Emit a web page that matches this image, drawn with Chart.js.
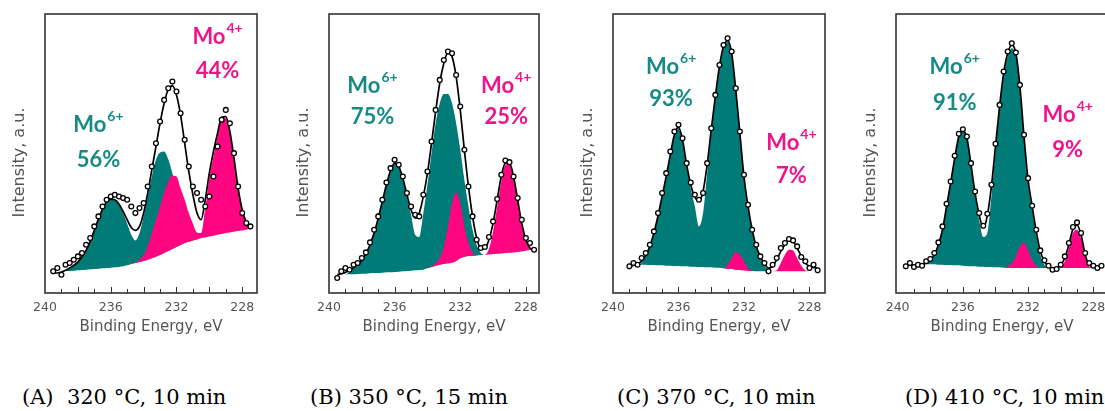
<!DOCTYPE html>
<html>
<head>
<meta charset="utf-8">
<script src="https://cdn.jsdelivr.net/npm/chart.js@4.4.1/dist/chart.umd.min.js"></script>
<style>
  body { margin: 0; width: 1105px; height: 411px; overflow: hidden; background: #fff; position: relative; }
  canvas { position: absolute; top: 0; }
  .cap { position: absolute; top: 385px; font-family: "DejaVu Serif", serif; font-size: 21px; line-height: 24px; white-space: pre; color: #000; }
</style>
</head>
<body>
<script>
// binding energy grid (eV), shared by all four spectra
const energyGrid = [239.5,239.25,239,238.75,238.5,238.25,238,237.75,237.5,237.25,237,236.75,236.5,236.25,236,235.75,235.5,235.25,235,234.75,234.5,234.25,234,233.75,233.5,233.25,233,232.75,232.5,232.25,232,231.75,231.5,231.25,231,230.75,230.5,230.25,230,229.75,229.5,229.25,229,228.75,228.5,228.25,228,227.75,227.5];
const xTicks = [240, 236, 232, 228];

// (A) 320 C
const aData = [65,75,55,85,90,100,110,120,145,165,200,230,260,280,290,295,290,285,280,260,240,255,270,320,380,450,515,580,615,635,605,540,460,380,320,300,280,260,290,350,440,520,550,510,420,320,240,210,200];
const aFit  = [60,60,63,68,75,83,93,108,128,155,188,222,252,274,282,280,267,245,220,197,188,200,240,300,370,440,510,570,612,622,595,535,450,365,295,240,220,280,360,425,480,528,530,485,405,315,250,212,192];
const aBase = [null,null,65,66,66,67,68,69,70,71,72,73,74,75,76,77,78,80,83,87,90,93,96,100,104,109,114,120,126,132,138,144,150,154,158,161,165,167,170,172,175,177,180,182,184,186,188,190,192];
const aMo6  = [null,null,65,68,74,82,92,106,125,152,185,218,248,272,282,280,266,240,208,175,158,180,230,290,350,400,422,425,402,360,305,250,205,180,165,161,165,167,170,172,175,177,180,182,184,186,188,190,192];
const aMo4  = [null,null,65,66,66,67,68,69,70,71,72,73,74,75,76,77,78,80,83,87,92,100,115,140,180,220,260,302,335,352,350,315,280,240,208,182,180,255,345,410,470,522,525,480,400,310,250,215,192];

// (B) 350 C
const bData = [45,65,75,70,85,90,105,122,152,190,230,280,332,375,400,385,350,300,260,235,230,295,365,455,550,640,700,725,720,655,560,430,320,230,160,135,138,168,215,282,355,398,393,350,285,220,165,150,130];
const bFit  = [55,58,62,68,75,85,98,118,145,180,225,275,325,368,390,380,345,295,250,225,240,290,360,450,545,630,690,722,710,650,550,430,320,230,165,135,135,160,210,280,350,390,390,350,280,210,160,135,130];
const bBase = [null,null,55,56,56,57,58,58,59,60,60,61,62,62,63,64,65,66,67,68,69,70,74,78,82,85,87,89,91,96,104,109,111,112,113,114,115,116,117,118,119,120,121,122,123,125,127,129,130];
const bMo6  = [null,null,55,62,72,82,95,115,142,178,223,273,322,365,388,375,340,288,235,175,168,240,325,420,510,570,598,598,570,510,430,340,260,190,145,120,115,116,117,118,119,120,121,122,123,125,127,129,130];
const bMo4  = [null,null,55,56,56,57,58,58,59,60,60,61,62,62,63,64,65,66,67,68,69,70,74,80,90,105,140,200,270,302,270,200,150,122,113,114,115,132,185,260,335,385,388,345,275,205,155,135,130];

// (C) 370 C
const cData = [null,null,80,90,85,105,120,145,185,240,300,360,425,485,505,465,390,332,295,280,300,390,495,595,685,745,765,725,615,485,355,265,190,145,110,90,65,85,105,135,150,162,158,140,108,95,75,85,68];
const cFit  = [null,null,80,83,88,95,112,140,180,232,290,350,415,475,498,460,385,325,288,278,305,385,490,590,680,740,758,720,610,480,350,260,190,140,110,88,75,80,100,125,145,158,155,135,110,90,80,77,75];
const cBase = [null,null,null,null,85,85,85,84,84,83,83,82,82,81,81,80,80,79,79,78,78,77,77,76,76,74,73,72,70,69,68,67,66,65,65,65,65,65,65,65,65,65,65,65,65,65,65,65,65];
const cMo6  = [null,null,null,null,85,90,108,135,175,228,285,345,410,470,495,455,380,315,260,200,240,360,480,580,670,732,755,715,605,475,345,255,185,135,105,82,70,65,65,65,65,65,65,65,65,65,65,65,65];
const cMo4  = [null,null,null,null,85,85,85,84,84,83,83,82,82,81,81,80,80,79,79,78,78,77,77,76,76,74,85,105,123,115,95,75,66,65,65,65,65,65,68,90,115,130,128,105,82,68,65,65,65];

// (D) 410 C
const dData = [80,90,78,85,82,95,102,120,152,200,268,335,412,478,492,470,390,305,240,202,238,325,448,565,665,725,750,722,625,475,345,262,190,128,98,82,70,72,85,110,150,198,212,180,120,90,82,75,82];
const dFit  = [85,84,84,85,87,90,100,115,145,190,260,330,405,470,488,465,385,300,235,196,232,320,440,560,660,720,745,720,620,470,340,260,185,125,95,80,74,75,84,105,145,192,204,175,115,85,80,79,80];
const dBase = [null,null,null,null,null,87,86,86,85,85,84,84,83,83,82,81,80,80,79,79,78,78,77,77,76,76,75,75,75,75,75,75,75,75,75,75,75,75,75,75,75,75,75,75,75,75,75,75,75];
const dMo6  = [null,null,null,null,null,87,98,113,142,188,258,328,402,465,485,460,380,292,220,168,180,290,425,550,652,710,735,710,610,460,330,250,175,115,85,75,75,75,75,75,75,75,75,75,75,75,75,75,75];
const dMo4  = [null,null,null,null,null,87,86,86,85,85,84,84,83,83,82,81,80,80,79,79,78,78,77,77,76,80,90,110,140,150,128,100,82,75,75,75,75,75,77,95,135,180,190,165,110,80,75,75,75];

const captions = ['(A)  320 \u00b0C, 10 min', '(B) 350 \u00b0C, 15 min', '(C) 370 \u00b0C, 10 min', '(D) 410 \u00b0C, 10 min'];
const mo6Share = ['56%', '75%', '93%', '91%'];
const mo4Share = ['44%', '25%', '7%', '9%'];

const TEAL = '#007b78', PINK = '#ff0582';
const TEAL_TXT = '#168a85', PINK_TXT = '#f0148c';

// layout of each panel: frame left/right in page px, axis range, label anchors [eV, line1, line2]
const panels = [
  {left: 45,  right: 257,  xmin: 227.1, xmax: 240,   cap: 22,  mo6: [236.75, 505, 400], mo4: [229.5, 769, 667],
   data: aData, fit: aFit, base: aBase, six: aMo6, four: aMo4},
  {left: 329, right: 539,  xmin: 227.2, xmax: 240,   cap: 310, mo6: [237.35, 622, 529], mo4: [229.2, 622, 529],
   data: bData, fit: bFit, base: bBase, six: bMo6, four: bMo4},
  {left: 613, right: 825,  xmin: 227.05, xmax: 240,  cap: 617, mo6: [236.45, 679, 583], mo4: [229.1, 451, 352],
   data: cData, fit: cFit, base: cBase, six: cMo6, four: cMo4},
  {left: 896, right: 1108, xmin: 227.1, xmax: 240.1, cap: 905, mo6: [236.5, 679, 571], mo4: [229.57, 535, 430],
   data: dData, fit: dFit, base: dBase, six: dMo6, four: dMo4}
];

function pts(arr) {
  return energyGrid.map((e, i) => ({x: e, y: arr[i]}));
}

function drawShare(ctx, sx, sy, anchor, sup, share, color) {
  const cx = sx.getPixelForValue(anchor[0]);
  const y1 = sy.getPixelForValue(anchor[1]);
  const y2 = sy.getPixelForValue(anchor[2]);
  ctx.fillStyle = color;
  ctx.textBaseline = 'middle';
  ctx.font = 'bold 22px Lato, "DejaVu Sans"';
  const w1 = ctx.measureText('Mo').width;
  ctx.font = 'bold 14px Lato, "DejaVu Sans"';
  const w2 = ctx.measureText(sup).width;
  const start = cx - (w1 + w2 + 1) / 2;
  ctx.textAlign = 'left';
  ctx.font = 'bold 22px Lato, "DejaVu Sans"';
  ctx.fillText('Mo', start, y1);
  ctx.font = 'bold 14px Lato, "DejaVu Sans"';
  ctx.fillText(sup, start + w1 + 1, y1 - 8);
  ctx.textAlign = 'center';
  ctx.font = 'bold 22px Lato, "DejaVu Sans"';
  ctx.fillText(share, cx, y2);
}

const decor = {
  id: 'decor',
  afterDatasetsDraw(chart) {
    const {ctx, chartArea: a, scales: {x, y}} = chart;
    const p = chart.options.plugins.decor;
    ctx.save();
    // inner tick marks every 1 eV
    ctx.strokeStyle = '#333';
    ctx.lineWidth = 1;
    for (let e = 228; e <= 239; e++) {
      const px = Math.round(x.getPixelForValue(e)) + 0.5;
      const len = e % 2 === 0 ? 6 : 4;
      ctx.beginPath();
      ctx.moveTo(px, a.bottom);
      ctx.lineTo(px, a.bottom - len);
      ctx.stroke();
    }
    // frame
    ctx.lineWidth = 1.6;
    ctx.strokeRect(a.left, a.top, a.right - a.left, a.bottom - a.top);
    // y title
    ctx.save();
    ctx.translate(a.left - 25, (a.top + a.bottom) / 2 + 9);
    ctx.rotate(-Math.PI / 2);
    ctx.fillStyle = '#555';
    ctx.font = '16px "DejaVu Sans"';
    ctx.textAlign = 'center';
    ctx.textBaseline = 'middle';
    ctx.fillText('Intensity, a.u.', 0, 0);
    ctx.restore();
    // component shares
    drawShare(ctx, x, y, p.mo6, '6+', p.six, TEAL_TXT);
    drawShare(ctx, x, y, p.mo4, '4+', p.four, PINK_TXT);
    ctx.restore();
  }
};

panels.forEach((pn, i) => {
  const cv = document.createElement('canvas');
  const cLeft = pn.left - 45;
  cv.width = pn.right - pn.left + 55;
  cv.height = 340;
  cv.style.left = cLeft + 'px';
  document.body.appendChild(cv);

  new Chart(cv, {
    type: 'line',
    data: {
      datasets: [
        {data: pts(pn.data), showLine: false, pointRadius: 2.4, pointBorderWidth: 1.3,
         pointBorderColor: '#000', pointBackgroundColor: '#fff'},
        {data: pts(pn.fit), borderColor: '#000', borderWidth: 1.7, pointRadius: 0,
         cubicInterpolationMode: 'monotone'},
        {data: pts(pn.four), borderWidth: 0, borderColor: 'rgba(0,0,0,0)', pointRadius: 0,
         backgroundColor: PINK, fill: 4, cubicInterpolationMode: 'monotone'},
        {data: pts(pn.six), borderWidth: 0, borderColor: 'rgba(0,0,0,0)', pointRadius: 0,
         backgroundColor: TEAL, fill: 4, cubicInterpolationMode: 'monotone'},
        {data: pts(pn.base), borderWidth: 0, borderColor: 'rgba(0,0,0,0)', pointRadius: 0,
         fill: false, cubicInterpolationMode: 'monotone'}
      ]
    },
    options: {
      responsive: false,
      animation: false,
      events: [],
      layout: {padding: {left: 45, right: 10, top: 14, bottom: 0}, autoPadding: false},
      plugins: {
        legend: {display: false},
        tooltip: {enabled: false},
        decor: {mo6: pn.mo6, mo4: pn.mo4, six: mo6Share[i], four: mo4Share[i]}
      },
      scales: {
        x: {
          type: 'linear',
          reverse: true,
          min: pn.xmin,
          max: pn.xmax,
          afterBuildTicks: s => { s.ticks = xTicks.map(v => ({value: v})); },
          afterFit: s => { s.height = 47; },
          grid: {display: false, drawTicks: false},
          border: {display: false},
          ticks: {padding: 7, color: '#555', maxRotation: 0, autoSkip: false,
                  font: {family: 'DejaVu Sans', size: 12.5}},
          title: {display: true, text: 'Binding Energy, eV', color: '#555',
                  font: {family: 'DejaVu Sans', size: 15}, padding: {top: 0, bottom: 4}}
        },
        y: {display: false, min: 0, max: 838}
      }
    },
    plugins: [decor]
  });

  const cap = document.createElement('div');
  cap.className = 'cap';
  cap.style.left = pn.cap + 'px';
  cap.textContent = captions[i];
  document.body.appendChild(cap);
});
</script>
</body>
</html>
